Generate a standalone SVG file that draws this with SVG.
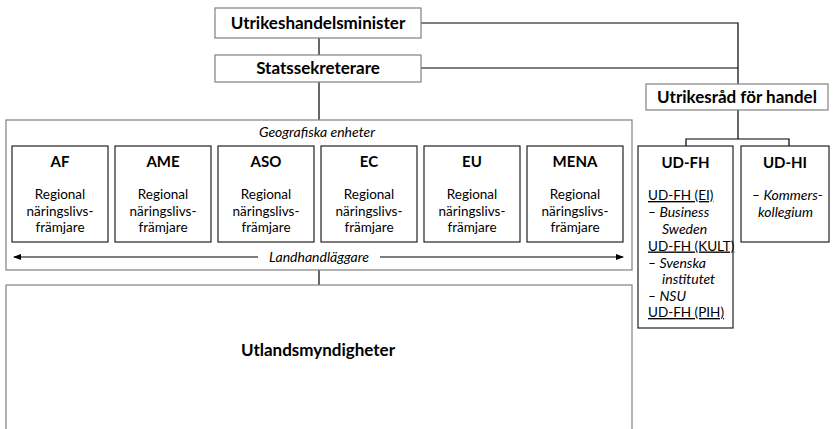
<svg xmlns="http://www.w3.org/2000/svg" width="833" height="429" viewBox="0 0 833 429">
<style>
text{font-family:Lato,"Liberation Sans",sans-serif;fill:#000}
.t{font-size:17px;font-weight:bold}
.h{font-size:15px;font-weight:bold}
.r{font-size:13.5px}
.i{font-size:14px;font-style:italic}
.u{text-decoration:underline}
.gb{fill:#fff;stroke:#808080;stroke-width:1.2}
.db{fill:#fff;stroke:#222;stroke-width:1.2}
.ln{fill:none;stroke:#000;stroke-width:1.2}
</style>
<defs>
<marker id="ah" markerWidth="8" markerHeight="6" refX="7" refY="3" orient="auto" markerUnits="userSpaceOnUse">
<path d="M0,0 L8,3 L0,6 Z" fill="#000"/>
</marker>
</defs>
<rect width="833" height="429" fill="#fff"/>
<g id="connectors">
<path class="ln" d="M319,38 V55"/>
<path class="ln" d="M319,82 V120"/>
<path class="ln" d="M421,23 H738 V84"/>
<path class="ln" d="M421,68 H738"/>
<path class="ln" d="M738,110 V139"/>
<path class="ln" d="M686,146 V139 H789 V146"/>
<path class="ln" d="M319,270 V285"/>
</g>
<g id="utrikeshandelsminister">
<rect class="gb" x="215" y="8" width="206" height="30"/>
<text class="t" x="318" y="29" text-anchor="middle">Utrikeshandelsminister</text>
</g>
<g id="statssekreterare">
<rect class="gb" x="215" y="55" width="206" height="27"/>
<text class="t" x="318" y="74" text-anchor="middle">Statssekreterare</text>
</g>
<g id="utrikesrad">
<rect class="gb" x="646" y="84" width="182" height="26"/>
<text class="t" x="737" y="103" text-anchor="middle">Utrikesråd för handel</text>
</g>
<g id="geografiska">
<rect class="gb" x="6" y="120" width="626" height="150"/>
<text class="i" x="317" y="137" text-anchor="middle">Geografiska enheter</text>
<path class="ln" d="M258,257 H14" stroke-width="1" marker-end="url(#ah)"/>
<path class="ln" d="M380,257 H623" stroke-width="1" marker-end="url(#ah)"/>
<text class="i" x="319" y="262" text-anchor="middle">Landhandläggare</text>
</g>
<g id="af">
<rect class="db" x="12" y="146" width="96" height="96"/>
<text class="h" x="60" y="167" text-anchor="middle">AF</text>
<text class="r" x="60" y="199" text-anchor="middle">Regional</text>
<text class="r" x="60" y="215.5" text-anchor="middle">näringslivs-</text>
<text class="r" x="60" y="232" text-anchor="middle">främjare</text>
</g>
<g id="ame">
<rect class="db" x="115" y="146" width="96" height="96"/>
<text class="h" x="163" y="167" text-anchor="middle">AME</text>
<text class="r" x="163" y="199" text-anchor="middle">Regional</text>
<text class="r" x="163" y="215.5" text-anchor="middle">näringslivs-</text>
<text class="r" x="163" y="232" text-anchor="middle">främjare</text>
</g>
<g id="aso">
<rect class="db" x="218" y="146" width="96" height="96"/>
<text class="h" x="266" y="167" text-anchor="middle">ASO</text>
<text class="r" x="266" y="199" text-anchor="middle">Regional</text>
<text class="r" x="266" y="215.5" text-anchor="middle">näringslivs-</text>
<text class="r" x="266" y="232" text-anchor="middle">främjare</text>
</g>
<g id="ec">
<rect class="db" x="321" y="146" width="96" height="96"/>
<text class="h" x="369" y="167" text-anchor="middle">EC</text>
<text class="r" x="369" y="199" text-anchor="middle">Regional</text>
<text class="r" x="369" y="215.5" text-anchor="middle">näringslivs-</text>
<text class="r" x="369" y="232" text-anchor="middle">främjare</text>
</g>
<g id="eu">
<rect class="db" x="424" y="146" width="96" height="96"/>
<text class="h" x="472" y="167" text-anchor="middle">EU</text>
<text class="r" x="472" y="199" text-anchor="middle">Regional</text>
<text class="r" x="472" y="215.5" text-anchor="middle">näringslivs-</text>
<text class="r" x="472" y="232" text-anchor="middle">främjare</text>
</g>
<g id="mena">
<rect class="db" x="527" y="146" width="96" height="96"/>
<text class="h" x="575" y="167" text-anchor="middle">MENA</text>
<text class="r" x="575" y="199" text-anchor="middle">Regional</text>
<text class="r" x="575" y="215.5" text-anchor="middle">näringslivs-</text>
<text class="r" x="575" y="232" text-anchor="middle">främjare</text>
</g>
<g id="utlandsmyndigheter">
<rect class="gb" x="6" y="285" width="626" height="150"/>
<text class="t" x="318" y="356" text-anchor="middle">Utlandsmyndigheter</text>
</g>
<g id="ud-fh">
<rect class="db" x="638" y="146" width="95" height="182"/>
<text class="h" x="685.5" y="168" text-anchor="middle">UD-FH</text>
<text class="r u" x="648" y="200">UD-FH (EI)</text>
<text class="i" x="648" y="217">– Business</text>
<text class="i" x="662" y="233.5">Sweden</text>
<text class="r u" x="648" y="250.5">UD-FH (KULT)</text>
<text class="i" x="648" y="267.5">– Svenska</text>
<text class="i" x="662" y="284">institutet</text>
<text class="i" x="648" y="300.5">– NSU</text>
<text class="r u" x="648" y="317">UD-FH (PIH)</text>
</g>
<g id="ud-hi">
<rect class="db" x="741" y="146" width="88" height="96"/>
<text class="h" x="785" y="168" text-anchor="middle">UD-HI</text>
<text class="i" x="752" y="200">– Kommers-</text>
<text class="i" x="758" y="216.5">kollegium</text>
</g>
</svg>
